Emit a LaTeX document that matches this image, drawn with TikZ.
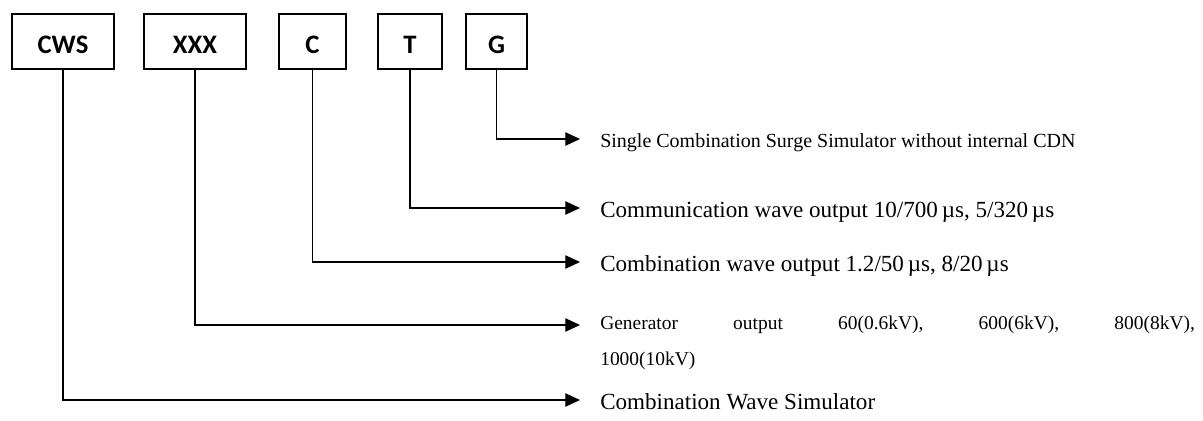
\documentclass[tikz,border=0pt]{standalone}
\usepackage{fontspec}
\setmainfont{Liberation Serif}
\newfontfamily\boxfont{Carlito}
\usetikzlibrary{arrows.meta}

\begin{document}
\begin{tikzpicture}[x=0.75pt,y=-0.75pt,
	code/.style={draw,line width=0.9pt,minimum height=41.25pt,inner sep=0pt,
		text height=18pt,text depth=0pt,font=\boxfont\bfseries\fontsize{20}{24}\selectfont},
	lead/.style={line width=0.9pt,-{Triangle[length=11pt,width=10pt]}},
	big/.style={anchor=base west,inner sep=0pt,xshift=15pt,yshift=-7pt,
		font=\fontsize{17.3}{20}\selectfont},
	small/.style={anchor=base west,inner sep=0pt,xshift=15pt,yshift=-6pt,
		font=\fontsize{14.6}{27}\selectfont}]
\useasboundingbox (0,0) rectangle (1203,421);
\node[code,minimum width=76.5pt] (CWS) at (63,41.5) {CWS};
\node[code,minimum width=76.5pt] (XXX) at (195,41.5) {XXX};
\node[code,minimum width=50.25pt] (C) at (312.5,41.5) {C};
\node[code,minimum width=48pt] (T) at (410,41.5) {T};
\node[code,minimum width=45.75pt] (G) at (496.5,41.5) {G};
\coordinate (eG) at (580,139);
\coordinate (eT) at (580,208);
\coordinate (eC) at (580,262);
\coordinate (eX) at (580,325);
\coordinate (eW) at (580,400);
\draw[lead] (G.south) |- (eG);
\draw[lead] (T.south) |- (eT);
\draw[lead] (C.south) |- (eC);
\draw[lead] (XXX.south) |- (eX);
\draw[lead] (CWS.south) |- (eW);
\node[small,font=\fontsize{15}{18}\selectfont] (tG) at (eG) {Single Combination Surge Simulator without internal CDN};
\node[big] (tT) at (eT) {Communication wave output 10/700\,µs, 5/320\,µs};
\node[big] (tC) at (eC) {Combination wave output 1.2/50\,µs, 8/20\,µs};
\node[small,yshift=3pt,text width=446pt,align=justify] (tX) at (eX)
	{Generator output 60(0.6kV), 600(6kV), 800(8kV),\linebreak 1000(10kV)};
\node[big] (tW) at (eW) {Combination Wave Simulator};
\end{tikzpicture}
\end{document}
